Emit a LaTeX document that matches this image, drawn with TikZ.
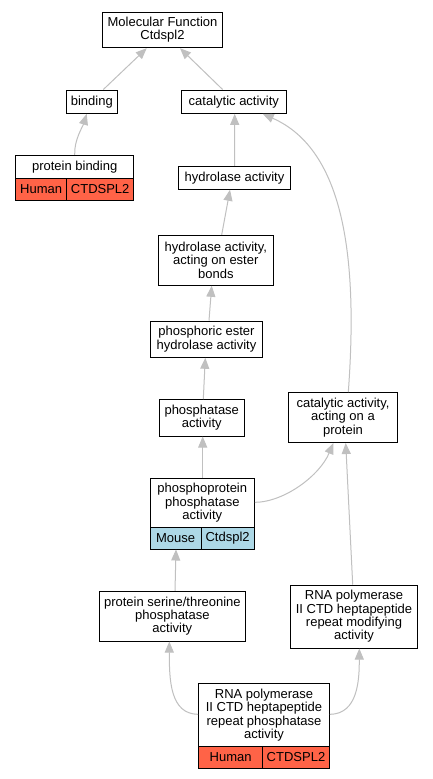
\documentclass[tikz,border=0pt]{standalone}
\usepackage{fontspec}
\setmainfont{Liberation Sans}
\usetikzlibrary{arrows.meta,calc}
\definecolor{edgegray}{RGB}{192,192,192}
\definecolor{human}{RGB}{255,99,71}
\definecolor{mouse}{RGB}{173,216,230}
\tikzset{
 box/.style={draw=black, line width=1pt, fill=white, inner sep=0pt, align=center, font=\fontsize{13}{13.3}\selectfont},
 lbl/.style={inner sep=0pt, align=center, font=\fontsize{13}{13.3}\selectfont},
 cell/.style={draw=black, line width=1pt, inner sep=0pt, font=\fontsize{13}{13.3}\selectfont},
 edge/.style={draw=edgegray, line width=1pt, -{Triangle[length=11pt,width=9pt,fill=edgegray]}},
}
\begin{document}
\begin{tikzpicture}[x=1pt,y=-1pt]
\useasboundingbox[fill=white] (0,0) rectangle (432,779);
% plain nodes
\node[box, minimum width=120.4pt, minimum height=35.7pt] (mf) at (162.5,29.85) {Molecular Function\\Ctdspl2};
\node[box, minimum width=51pt, minimum height=23.3pt] (bind) at (91.8,101.7) {binding};
\node[box, minimum width=105.7pt, minimum height=23.3pt] (cat) at (233.85,101.7) {catalytic activity};
\node[box, minimum width=112pt, minimum height=23pt] (hyd) at (234.5,177.8) {hydrolase activity};
\node[box, minimum width=115pt, minimum height=50pt] (hes) at (215.8,260.3) {hydrolase activity,\\acting on ester\\bonds};
\node[box, minimum width=112.4pt, minimum height=36.3pt] (pehs) at (206.5,339.15) {phosphoric ester\\hydrolase activity};
\node[box, minimum width=84.5pt, minimum height=36.5pt] (phos) at (201.75,417.75) {phosphatase\\activity};
\node[box, minimum width=108.6pt, minimum height=49.8pt] (cap) at (343,417.6) {catalytic activity,\\acting on a\\protein};
\node[box, minimum width=145.3pt, minimum height=49.7pt] (sth) at (172.35,616.15) {protein serine/threonine\\phosphatase\\activity};
\node[box, minimum width=126.6pt, minimum height=63pt] (rmod) at (354,616.5) {RNA polymerase\\II CTD heptapeptide\\repeat modifying\\activity};
% record: protein binding
\node[box, minimum width=118pt, minimum height=45pt] (pb) at (74.7,177.8) {};
\node[lbl] (pbt) at (74.7,166.8) {protein binding};
\node[cell, fill=human, minimum width=51pt, minimum height=22pt] (pbh) at (41.2,189.3) {Human};
\node[cell, fill=human, minimum width=67pt, minimum height=22pt] (pbg) at (100.2,189.3) {CTDSPL2};
% record: phosphoprotein phosphatase activity
\node[box, minimum width=104pt, minimum height=70.3pt] (ppp) at (202.3,513.85) {};
\node[lbl] (pppt) at (202.3,502.85) {phosphoprotein\\phosphatase\\activity};
\node[cell, fill=mouse, minimum width=50.7pt, minimum height=22pt] (pppm) at (175.65,538) {Mouse};
\node[cell, fill=mouse, minimum width=53.3pt, minimum height=22pt] (pppg) at (227.65,538) {Ctdspl2};
% record: RNA polymerase ... phosphatase activity
\node[box, minimum width=130.6pt, minimum height=84.3pt] (rph) at (264,725.85) {};
\node[lbl] (rpht) at (264,715.2) {RNA polymerase\\II CTD heptapeptide\\repeat phosphatase\\activity};
\node[cell, fill=human, minimum width=64pt, minimum height=21.3pt] (rphh) at (230.7,757.35) {Human};
\node[cell, fill=human, minimum width=66.6pt, minimum height=21.3pt] (rphg) at (296,757.35) {CTDSPL2};
% edges
\draw[edge] ([xshift=11.5pt]bind.north) -- ([xshift=-15.8pt]mf.south);
\draw[edge] ([xshift=-11.2pt]cat.north) -- ([xshift=17.5pt]mf.south);
\draw[edge] (pb.north) .. controls (74,140) and (83,126) .. ([xshift=-5.1pt]bind.south);
\draw[edge] ([xshift=0.2pt]hyd.north) -- ([xshift=0.85pt]cat.south);
\draw[edge] ([xshift=5.9pt]hes.north) -- ([xshift=-4.5pt]hyd.south);
\draw[edge] ([xshift=2.5pt]pehs.north) -- ([xshift=-4.1pt]hes.south);
\draw[edge] ([xshift=1.55pt]phos.north) -- ([xshift=-1.2pt]pehs.south);
\draw[edge] ([xshift=0.4pt]ppp.north) -- ([xshift=0.95pt]phos.south);
\draw[edge] ([yshift=11.5pt]ppp.east) .. controls (285,502) and (320,475) .. ([xshift=-9.7pt]cap.south);
\draw[edge] ([xshift=5.3pt]cap.north) .. controls (358,260) and (345,150) .. ([xshift=28.85pt]cat.south);
\draw[edge] ([xshift=2.65pt]sth.north) -- ([xshift=-26.3pt]ppp.south);
\draw[edge] ([xshift=-1.3pt]rmod.north) -- ([xshift=2.7pt]cap.south);
\draw[edge] ([yshift=11.5pt]rph.west) .. controls (170,714) and (169.3,680) .. ([xshift=-3.05pt]sth.south);
\draw[edge] ([yshift=11.5pt]rph.east) .. controls (358,714) and (359.3,680) .. ([xshift=5.3pt]rmod.south);
\end{tikzpicture}
\end{document}
